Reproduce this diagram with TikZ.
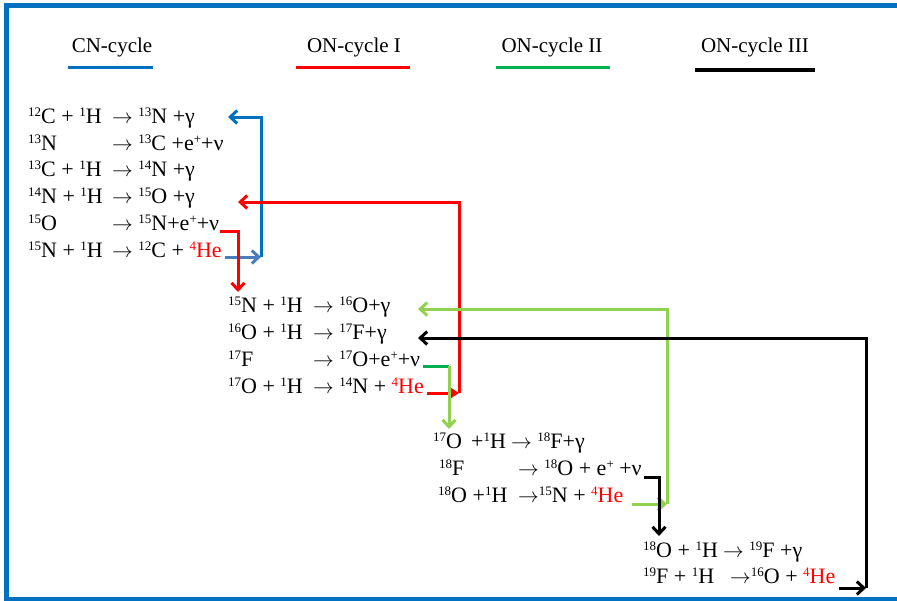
\documentclass[tikz,border=0pt]{standalone}
\usepackage{fontspec}
\setmainfont{Liberation Serif}
\usetikzlibrary{arrows.meta}

\definecolor{cnblue}{HTML}{0070C0}
\definecolor{cnsteel}{HTML}{4A7EBB}
\definecolor{onred}{HTML}{FF0000}
\definecolor{ongreen}{HTML}{00B050}
\definecolor{onlime}{HTML}{92D050}

\newcommand\rxfont{\fontsize{22}{26}\selectfont}
\newcommand\legfont{\fontsize{21}{25}\selectfont}
\newcommand\upper[1]{\raisebox{0.6ex}{\fontsize{13}{13}\selectfont #1}}
\newcommand\iso[2]{\upper{#1}#2}
\newcommand\helium{\textcolor{onred}{\iso{4}{He}}}
\newcommand\yields{$\rightarrow$}

\tikzset{
  rx/.style={anchor=base west, inner sep=0pt, font=\rxfont},
  legtext/.style={anchor=base, inner sep=0pt, font=\legfont},
  link/.style={line width=3pt},
  barb/.style={-{Straight Barb[length=7pt,width=13pt]}},
}

\begin{document}
\begin{tikzpicture}[x=1pt,y=-1pt]
    \useasboundingbox (0,0) rectangle (897,600);
    \draw[cnblue,line width=5pt] (897,5.5) -- (6.5,5.5) -- (6.5,599.5) -- (897,599.5);

    % Legend
    \node[legtext] (lgcn) at (112,52) {CN-cycle};
    \node[legtext] (lgon1) at (354,52) {ON-cycle I};
    \node[legtext] (lgon2) at (552,52) {ON-cycle II};
    \node[legtext] (lgon3) at (755,52) {ON-cycle III};
    \draw[cnblue,line width=3pt] (68,67) -- (153,67);
    \draw[onred,line width=3pt] (296,67) -- (410,67);
    \draw[ongreen,line width=3pt] (496,67) -- (610,67);
    \draw[black,line width=3.5pt] (695,70) -- (815,70);

    % CN-cycle
    \node[rx] (a1) at (28,123) {\iso{12}{C} + \iso{1}{H}};
    \node[rx] (a1p) at (112,123) {\yields{} \iso{13}{N} +γ};
    \node[rx] (a2) at (28,150) {\iso{13}{N}};
    \node[rx] (a2p) at (112,150) {\yields{} \iso{13}{C} +e\upper{+}+ν};
    \node[rx] (a3) at (28,176) {\iso{13}{C} + \iso{1}{H}};
    \node[rx] (a3p) at (112,176) {\yields{} \iso{14}{N} +γ};
    \node[rx] (a4) at (28,203) {\iso{14}{N} + \iso{1}{H}};
    \node[rx] (a4p) at (112,203) {\yields{} \iso{15}{O} +γ};
    \node[rx] (a5) at (28,230) {\iso{15}{O}};
    \node[rx] (a5p) at (112,230) {\yields{} \iso{15}{N}+e\upper{+}+ν};
    \node[rx] (a6) at (28,257) {\iso{15}{N} + \iso{1}{H}};
    \node[rx] (a6p) at (112,257) {\yields{} \iso{12}{C} + \helium};

    % ON-cycle I
    \node[rx] (b1) at (228,312) {\iso{15}{N} + \iso{1}{H}};
    \node[rx] (b1p) at (313,312) {\yields{} \iso{16}{O}+γ};
    \node[rx] (b2) at (228,339) {\iso{16}{O} + \iso{1}{H}};
    \node[rx] (b2p) at (313,339) {\yields{} \iso{17}{F}+γ};
    \node[rx] (b3) at (228,366) {\iso{17}{F}};
    \node[rx] (b3p) at (313,366) {\yields{} \iso{17}{O}+e\upper{+}+ν};
    \node[rx] (b4) at (228,393) {\iso{17}{O} + \iso{1}{H}};
    \node[rx] (b4p) at (313,393) {\yields{} \iso{14}{N} + \helium};

    % ON-cycle II
    \node[rx] (c1) at (433,448) {\iso{17}{O}\,\ +\iso{1}{H}};
    \node[rx] (c1p) at (511,448) {\yields{} \iso{18}{F}+γ};
    \node[rx] (c2) at (439,475) {\iso{18}{F}};
    \node[rx] (c2p) at (518,475) {\yields{} \iso{18}{O} + e\upper{+} +ν};
    \node[rx] (c3) at (438,502) {\iso{18}{O} +\iso{1}{H}};
    \node[rx] (c3p) at (518,502) {\yields\iso{15}{N} + \helium};

    % ON-cycle III
    \node[rx] (d1) at (643,557) {\iso{18}{O} + \iso{1}{H}};
    \node[rx] (d1p) at (723,557) {\yields{} \iso{19}{F} +γ};
    \node[rx] (d2) at (643,583) {\iso{19}{F} + \iso{1}{H}};
    \node[rx] (d2p) at (730,583) {\yields\iso{16}{O} + \helium};

    % turning points
    \coordinate (cnx) at (261,0);
    \coordinate (on1x) at (459,0);
    \coordinate (on2x) at (667,0);
    \coordinate (on3x) at (866,0);
    \coordinate (cntip) at (228,117);
    \coordinate (on1tip) at (238,202);
    \coordinate (on1down) at (238,292);
    \coordinate (on2tip) at (418,309);
    \coordinate (on2down) at (449,429);
    \coordinate (on3tip) at (418,338);
    \coordinate (on3down) at (659,536);

    % CN-cycle closes
    \draw[cnsteel,link,barb] ([xshift=3pt]a6p.base east) -- (a6p.base east -| cnx);
    \draw[cnblue,link,barb] (a6p.base east -| cnx) |- (cntip);

    % ON-cycle I
    \draw[onred,link,barb] ([xshift=1pt,yshift=-1pt]a5p.base east) -| (on1down);
    \draw[onred,link,-{Triangle[length=9pt,width=11pt]}] ([xshift=3pt]b4p.base east) -- (b4p.base east -| on1x);
    \draw[onred,link,barb] (b4p.base east -| on1x) |- (on1tip);

    % ON-cycle II
    \draw[ongreen,link] ([xshift=3pt]b3p.base east) -- (b3p.base east -| on2down);
    \draw[onlime,link,barb] (b3p.base east -| on2down) -- (on2down);
    \draw[onlime,link,barb] ([xshift=8pt,yshift=-2pt]c3p.base east) -- ([yshift=-2pt]c3p.base east -| on2x);
    \draw[onlime,link,barb] ([yshift=-2pt]c3p.base east -| on2x) |- (on2tip);

    % ON-cycle III
    \draw[black,link,barb] ([xshift=2pt,yshift=-2pt]c2p.base east) -| (on3down);
    \draw[black,link,barb] ([xshift=3pt,yshift=-5pt]d2p.base east) -- ([yshift=-5pt]d2p.base east -| on3x);
    \draw[black,link,barb] ([yshift=-5pt]d2p.base east -| on3x) |- (on3tip);
\end{tikzpicture}
\end{document}
